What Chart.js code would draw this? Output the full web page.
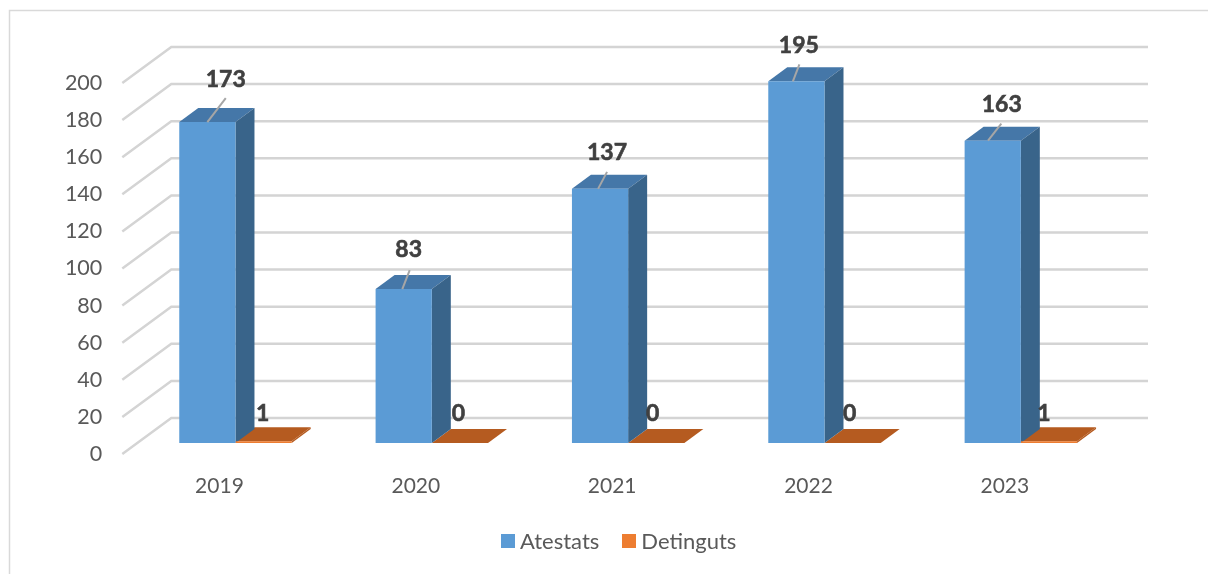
<!DOCTYPE html>
<html>
<head>
<meta charset="utf-8">
<title>Atestats / Detinguts</title>
<script src="https://cdn.jsdelivr.net/npm/chart.js@4"></script>
<style>
  html, body { margin: 0; background: #fff; overflow: hidden; }
  #wrap { position: relative; width: 1208px; height: 574px; }
  #legend { position: absolute; top: 527px; left: 501px; display: flex; font: 22px Lato, sans-serif; color: #595959; line-height: 28px; }
  #legend span { display: flex; align-items: center; margin-right: 23px; }
  #legend i { width: 14px; height: 14px; margin-right: 5px; display: block; }
</style>
</head>
<body>
<div id="wrap">
  <canvas id="chart" width="1208" height="574"></canvas>
  <div id="legend">
    <span><i style="background:#5b9bd5"></i>Atestats</span>
    <span><i style="background:#ed7d31"></i>Detinguts</span>
  </div>
</div>
<script>
const years = ['2019', '2020', '2021', '2022', '2023'];
const atestats = [173, 83, 137, 195, 163];
const detinguts = [1, 0, 0, 0, 1];

// the bars sit mid-way in the depth of the fake 3D box
const BAR_DX = 19, BAR_DY = 14;      // bar depth
const FRONT_DX = 15, FRONT_DY = 11;  // bar plane -> front of box
const BACK_DX = 34, BACK_DY = 25;    // bar plane -> back wall

// hand-placed labels in the original, relative to bar top centre
const leaderStart = [0, -1.4, -2, -3.5, -4.7];
const leaderEnd = [[18.4, -24], [6, -19], [7, -17], [3, -17], [8.6, -17]];
const labelPos = [[18.4, -43], [5, -39], [7, -36.5], [2.5, -35.5], [9, -36]];
const smallLabelDx = [-1, -1.5, -3.5, -3, -5];

const box3d = {
  id: 'box3d',
  beforeDraw(chart) {
    // outer chart frame, only top and left are in the window
    const c = chart.ctx;
    c.save();
    c.strokeStyle = '#d9d9d9';
    c.lineWidth = 1.5;
    c.beginPath();
    c.moveTo(9.5, 574);
    c.lineTo(9.5, 10.5);
    c.lineTo(1208, 10.5);
    c.stroke();
    c.restore();
  },
  beforeDatasetsDraw(chart) {
    const c = chart.ctx, y = chart.scales.y, x = chart.scales.x;
    c.save();
    c.strokeStyle = '#d4d4d4';
    c.lineWidth = 2.5;
    y.ticks.forEach(t => {
      const py = y.getPixelForValue(t.value);
      c.beginPath();
      c.moveTo(x.left - FRONT_DX, py + FRONT_DY);
      c.lineTo(x.left + BACK_DX, py - BACK_DY);
      c.lineTo(x.right + 29, py - BACK_DY);
      c.stroke();
    });
    c.restore();
    // orange goes first, blue side overlaps it
    drawFaces(chart, 1, '#b55b20', '#b55b20');
    drawFaces(chart, 0, '#4577a8', '#39648a');
  },
  afterDatasetsDraw(chart) {
    const c = chart.ctx;
    c.save();
    c.textAlign = 'center';
    c.textBaseline = 'middle';
    c.font = 'bold 23px Lato, sans-serif';
    c.fillStyle = '#404040';
    const put = (txt, x, y) => {
      // Lato bold is a bit lighter than the original face
      c.strokeStyle = '#404040';
      c.lineWidth = 0.6;
      c.strokeText(txt, x, y);
      c.fillText(txt, x, y);
    };
    chart.getDatasetMeta(0).data.forEach((bar, i) => {
      const e = leaderEnd[i], l = labelPos[i];
      c.strokeStyle = '#a6a6a6';
      c.lineWidth = 2;
      c.beginPath();
      c.moveTo(bar.x + leaderStart[i], bar.y);
      c.lineTo(bar.x + e[0], bar.y + e[1]);
      c.stroke();
      put(atestats[i], bar.x + l[0], bar.y + l[1]);
    });
    chart.getDatasetMeta(1).data.forEach((bar, i) => {
      put(detinguts[i], bar.x + smallLabelDx[i], chart.scales.y.getPixelForValue(0) - 29);
    });
    c.restore();
  }
};

function drawFaces(chart, idx, topColor, sideColor) {
  const c = chart.ctx;
  chart.getDatasetMeta(idx).data.forEach(bar => {
    const l = bar.x - bar.width / 2, r = bar.x + bar.width / 2;
    const t = bar.y, b = bar.base;
    c.fillStyle = topColor;
    c.beginPath();
    c.moveTo(l, t);
    c.lineTo(l + BAR_DX, t - BAR_DY);
    c.lineTo(r + BAR_DX, t - BAR_DY);
    c.lineTo(r, t);
    c.closePath();
    c.fill();
    c.fillStyle = sideColor;
    c.beginPath();
    c.moveTo(r, t);
    c.lineTo(r + BAR_DX, t - BAR_DY);
    c.lineTo(r + BAR_DX, b - BAR_DY);
    c.lineTo(r, b);
    c.closePath();
    c.fill();
  });
}

new Chart(document.getElementById('chart'), {
  type: 'bar',
  data: {
    labels: years,
    datasets: [
      { label: 'Atestats', data: atestats, backgroundColor: '#5b9bd5' },
      { label: 'Detinguts', data: detinguts, backgroundColor: '#ed7d31' },
    ],
  },
  options: {
    responsive: false,
    animation: false,
    devicePixelRatio: 1,
    categoryPercentage: 0.5726,
    barPercentage: 1,
    layout: { padding: { top: 72, right: 89, left: 0, bottom: 0 } },
    plugins: { legend: { display: false }, tooltip: { enabled: false } },
    scales: {
      x: {
        grid: { display: false },
        border: { display: false },
        afterFit: s => { s.height = 131; },
        ticks: { font: { family: 'Lato', size: 21 }, color: '#595959', padding: 23, labelOffset: -16, maxRotation: 0 },
      },
      y: {
        min: 0,
        max: 200,
        grid: { display: false },
        border: { display: false },
        afterFit: s => { s.width = 137.3; },
        ticks: { stepSize: 20, font: { family: 'Lato', size: 21.5 }, color: '#595959', padding: 27, labelOffset: FRONT_DY },
      },
    },
  },
  plugins: [box3d],
});
</script>
</body>
</html>
